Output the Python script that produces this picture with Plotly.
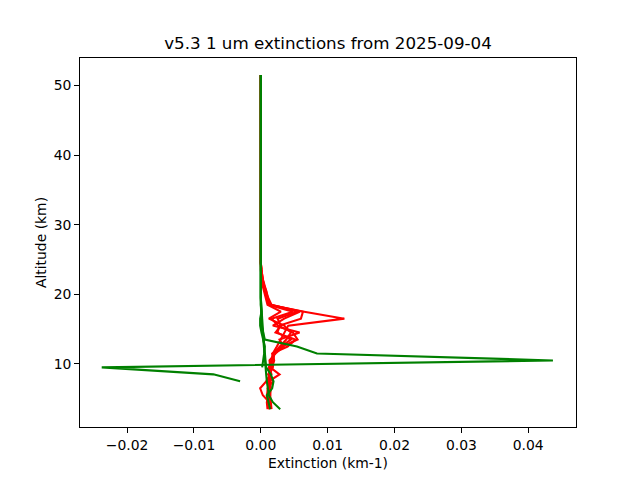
import plotly.graph_objects as go

# Altitude grid (km); the last level is the top of the profiles
ALTITUDE_KM = [3.5, 4.5, 5.5, 6.5, 7.5, 8.5, 9.5, 10.5, 11.5, 12.5, 13.5,
               14.5, 15.5, 16.5, 17.5, 18.5, 19.5, 20.5, 21.5, 22.5, 23.5,
               24.5, 51.5]

# Red extinction profiles (km-1)
RED_A = [0.0013, 0.0011, 0.0009, 0.0011, 0.0013, 0.0012, 0.0014, 0.0015, 0.0018, 0.0024, 0.0030, 0.0036,
         0.0041, 0.0125, 0.0065, 0.0012, 0.0010, 0.0008, 0.0004, 0.0002, 0.0001, 0.0, 0.0]
RED_B = [0.0011, 0.0013, 0.0003, -0.0001, 0.0008, 0.0014, 0.0012, 0.0016, 0.0020, 0.0030, 0.0045, 0.0025,
         0.0028, 0.0060, 0.0063, 0.0014, 0.0010, 0.0007, 0.0004, 0.0002, 0.0001, 0.0, 0.0]
RED_C = [0.0016, 0.0015, 0.0013, 0.0012, 0.0012, 0.0028, 0.0014, 0.0013, 0.0022, 0.0034, 0.0028, 0.0058,
         0.0018, 0.0035, 0.0058, 0.0016, 0.0011, 0.0008, 0.0005, 0.0002, 0.0001, 0.0, 0.0]
RED_D = [0.0010, 0.0009, 0.0011, 0.0010, 0.0018, 0.0011, 0.0016, 0.0020, 0.0017, 0.0040, 0.0052, 0.0022,
         0.0030, 0.0025, 0.0055, 0.0013, 0.0009, 0.0006, 0.0003, 0.0001, 0.0, 0.0, 0.0]
RED_E = [0.0014, 0.0012, 0.0014, 0.0015, 0.0014, 0.0013, 0.0018, 0.0019, 0.0020, 0.0032, 0.0055, 0.0048,
         0.0026, 0.0016, 0.0048, 0.0011, 0.0008, 0.0005, 0.0003, 0.0001, 0.0, 0.0, 0.0]
RED_F = [0.0012, 0.0010, 0.0012, 0.0013, 0.0011, 0.0016, 0.0013, 0.0017, 0.0019, 0.0028, 0.0038, 0.0045,
         0.0035, 0.0012, 0.0030, 0.0010, 0.0007, 0.0004, 0.0002, 0.0001, 0.0, 0.0, 0.0]

# Green extinction profiles (km-1)
GREEN_A = [None, None, None, None, -0.0031, -0.0071, -0.0238, 0.0437, 0.0084, 0.0054, 0.0006, 0.0003,
           0.0001, 0.0001, 0.0, 0.0, 0.0, 0.0, 0.0, 0.0, 0.0, 0.0, 0.0]
GREEN_B = [0.0029, 0.0018, 0.0012, 0.0010, 0.0009, 0.0008, 0.0007, 0.0006, 0.0005, 0.0005, 0.0004, 0.0003,
           0.0002, 0.0002, 0.0001, 0.0001, 0.0, 0.0, 0.0, 0.0, 0.0, 0.0, 0.0]
GREEN_C = [0.0014, 0.0011, 0.0009, 0.0017, 0.0019, 0.0015, 0.0008, 0.0007, 0.0006, 0.0005, 0.0004, 0.0003,
           0.0002, 0.0001, 0.0001, 0.0, 0.0, 0.0, 0.0, 0.0, 0.0, 0.0, 0.0]
GREEN_D = [None, None, None, None, None, None, 0.0002, 0.0004, 0.0005, 0.0006, 0.0003, 0.0001,
           -0.0001, -0.0001, 0.0001, 0.0, 0.0, 0.0, 0.0, 0.0, 0.0, 0.0, 0.0]

RED_PROFILES = [RED_A, RED_B, RED_C, RED_D, RED_E, RED_F]
GREEN_PROFILES = [GREEN_A, GREEN_B, GREEN_C, GREEN_D]

X_TICKS = [-0.02, -0.01, 0.0, 0.01, 0.02, 0.03, 0.04]
X_TICK_LABELS = ["\u22120.02", "\u22120.01", "0.00", "0.01", "0.02", "0.03", "0.04"]
Y_TICKS = [10, 20, 30, 40, 50]

LW = 2.08  # 1.5 pt at 100 dpi

fig = go.Figure()
for prof in RED_PROFILES:
    fig.add_trace(go.Scatter(x=prof, y=ALTITUDE_KM, mode="lines",
                             line=dict(color="red", width=LW), connectgaps=False,
                             showlegend=False, hoverinfo="skip"))
for prof in GREEN_PROFILES:
    fig.add_trace(go.Scatter(x=prof, y=ALTITUDE_KM, mode="lines",
                             line=dict(color="green", width=LW), connectgaps=False,
                             showlegend=False, hoverinfo="skip"))

# The page body has an 8 px default margin, so the figure is sized/offset for it
W, H = 632, 472
font = dict(family="DejaVu Sans", size=13.9, color="black")
fig.update_layout(
    width=W, height=H,
    margin=dict(l=72, r=64, t=49.6, b=52.8),
    paper_bgcolor="white", plot_bgcolor="white",
    font=font,
    title=dict(text="v5.3 1 um extinctions from 2025-09-04", x=0.5, xref="paper",
               xanchor="center", y=1 - 35 / H, yref="container", yanchor="middle",
               font=dict(family="DejaVu Sans", size=16.7, color="black")),
    xaxis=dict(range=[-0.02705, 0.04715], tickvals=X_TICKS, ticktext=X_TICK_LABELS,
               showline=True, linecolor="black", linewidth=1, mirror=True,
               ticks="outside", ticklen=4.9, tickwidth=1, tickcolor="black",
               showgrid=False, zeroline=False, tickfont=font,
               title=dict(text="Extinction (km-1)", standoff=6, font=font)),
    yaxis=dict(range=[0.94, 53.93], tickvals=Y_TICKS,
               showline=True, linecolor="black", linewidth=1, mirror=True,
               ticks="outside", ticklen=4.9, tickwidth=1, tickcolor="black",
               showgrid=False, zeroline=False, tickfont=font,
               title=dict(text="Altitude (km)", standoff=3, font=font)),
)

fig.write_html("out.html")
